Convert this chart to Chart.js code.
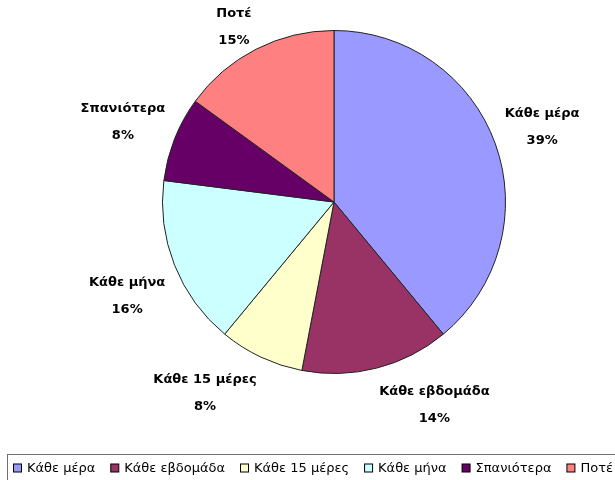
<!DOCTYPE html>
<html><head><meta charset="utf-8">
<script src="https://cdn.jsdelivr.net/npm/chart.js@4/dist/chart.umd.min.js"></script>
<style>html,body{margin:0;padding:0;background:#fff;overflow:hidden}canvas{display:block}</style>
</head><body>
<canvas id="c" width="615" height="480"></canvas>
<script>
const categories = ['Κάθε μέρα','Κάθε εβδομάδα','Κάθε 15 μέρες','Κάθε μήνα','Σπανιότερα','Ποτέ'];
const values = [39,14,8,16,8,15];
const colors = ['#9999FF','#993366','#FFFFCC','#CCFFFF','#660066','#FF8080'];

const labelPlugin = {
  id:'outsideLabels',
  afterDatasetsDraw(chart){
    const ctx = chart.ctx;
    const meta = chart.getDatasetMeta(0);
    const data = chart.data.datasets[0].data;
    const total = data.reduce((a,b)=>a+b,0);
    ctx.save();
    ctx.font = 'bold 13px "DejaVu Sans"';
    ctx.fillStyle = '#000';
    ctx.textAlign = 'center'; ctx.textBaseline = 'middle';
    const gap = 10, lineGap = 27, h = 40, yShift = 7;
    meta.data.forEach((arc,i)=>{
      const p = arc.getProps(['x','y','startAngle','endAngle','outerRadius'], true);
      const mid = (p.startAngle+p.endAngle)/2;
      const dx = Math.cos(mid), dy = Math.sin(mid);
      const ax = p.x + dx*(p.outerRadius+gap), ay = p.y + dy*(p.outerRadius+gap);
      const l1 = chart.data.labels[i], l2 = Math.round(data[i]/total*100)+'%';
      const w = Math.max(ctx.measureText(l1).width, ctx.measureText(l2).width);
      const cx = dx>=0 ? ax + w/2 : ax - w/2;
      const cy = (dy>=0 ? ay + h/2 : ay - h/2) + yShift;
      ctx.fillText(l1, cx, cy - lineGap/2);
      ctx.fillText(l2, cx, cy + lineGap/2);
    });
    ctx.restore();
  }
};

const legendPlugin = {
  id:'boxLegend',
  afterDraw(chart){
    const ctx = chart.ctx;
    const labels = chart.data.labels;
    const cols = chart.data.datasets[0].backgroundColor;
    ctx.save();
    ctx.strokeStyle = '#707070'; ctx.lineWidth = 1;
    ctx.strokeRect(7.5, 454.5, 640, 40);
    ctx.font = '13px "DejaVu Sans"';
    ctx.textBaseline = 'middle'; ctx.textAlign = 'left';
    const sq = 9, sqGap = 5, startX = 13, endX = 613, yc = 468;
    const widths = labels.map(t=>ctx.measureText(t).width);
    const natural = widths.reduce((a,b)=>a+b,0) + labels.length*(sq+sqGap);
    const g = (endX - startX - natural)/(labels.length-1);
    let x = startX;
    labels.forEach((t,i)=>{
      ctx.fillStyle = cols[i];
      ctx.fillRect(x+0.5, yc-sq/2+0.5, sq-1, sq-1);
      ctx.strokeStyle = '#000';
      ctx.strokeRect(x+0.5, yc-sq/2+0.5, sq-1, sq-1);
      ctx.fillStyle = '#000';
      ctx.fillText(t, x+sq+sqGap, yc+1);
      x += sq+sqGap+widths[i]+g;
    });
    ctx.restore();
  }
};

new Chart(document.getElementById('c'), {
  type:'pie',
  data:{
    labels: categories,
    datasets:[{
      data: values,
      backgroundColor: colors,
      borderColor: '#222',
      borderWidth: 1
    }]
  },
  options:{
    responsive:false,
    animation:false,
    layout:{padding:{left:162,right:109,top:30,bottom:106}},
    plugins:{legend:{display:false},tooltip:{enabled:false},title:{display:false}}
  },
  plugins:[labelPlugin, legendPlugin]
});
</script>
</body></html>
